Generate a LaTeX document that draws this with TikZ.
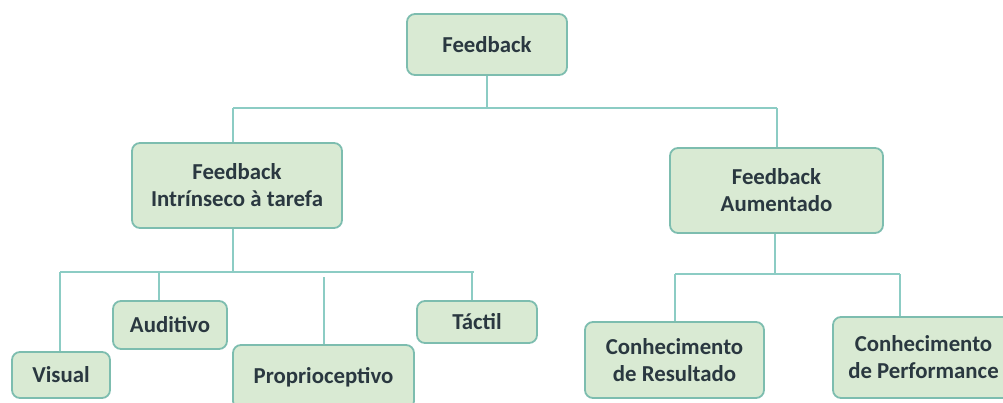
\documentclass[tikz,border=0pt]{standalone}
\usepackage{fontspec}
\setmainfont{Carlito}
\definecolor{boxfill}{HTML}{D9EAD3}
\definecolor{boxline}{HTML}{7DBDAF}
\definecolor{conn}{HTML}{8CCCC4}
\definecolor{txt}{HTML}{2A3840}
\tikzset{
  box/.style={draw=boxline, line width=1.8pt, fill=boxfill, rounded corners=8pt,
    inner sep=0pt, align=center, text=txt, font=\fontsize{22.8}{27}\selectfont\bfseries},
  link/.style={draw=conn, line width=2.4pt}
}
\begin{document}
\begin{tikzpicture}[x=1pt,y=-1pt]
\useasboundingbox (0,0) rectangle (1003,402);
\clip (0,0) rectangle (1003,402);
% nodes
\node[box, minimum width=160pt, minimum height=61pt] (fb) at (487,44.5) {Feedback};
\node[box, minimum width=210pt, minimum height=85pt] (fi) at (237,185.5) {Feedback\\Intrínseco à tarefa};
\node[box, minimum width=213pt, minimum height=85pt] (fa) at (776.5,190.5) {Feedback\\Aumentado};
\node[box, minimum width=98pt, minimum height=46pt] (vis) at (61,375) {Visual};
\node[box, minimum width=114pt, minimum height=48pt] (aud) at (170,325) {Auditivo};
\node[box, minimum width=181pt, minimum height=64pt] (pro) at (323.5,377) {Proprioceptivo};
\node[box, minimum width=120pt, minimum height=42pt] (tac) at (477,322) {Táctil};
\node[box, minimum width=179pt, minimum height=76pt] (cr) at (674.5,360) {Conhecimento\\de Resultado};
\node[box, minimum width=181pt, minimum height=81pt] (cp) at (923.5,357.5) {Conhecimento\\de Performance};
% junction coordinates
\coordinate (t0) at (487,108);
\coordinate (tl) at (233,108);
\coordinate (tr) at (777,108);
\coordinate (l0) at (233,272);
\coordinate (lv) at (60,272);
\coordinate (la) at (159,272);
\coordinate (lp) at (324,277);
\coordinate (lt) at (472,272);
\coordinate (le) at (474,272);
\coordinate (r0) at (775,274);
\coordinate (rl) at (675,274);
\coordinate (rr) at (900,274);
% connectors
\path[link] (fb.south) -- (t0);
\path[link] (tl) -- (tr);
\path[link] (tl) -- (tl |- fi.north);
\path[link] (tr) -- (tr |- fa.north);
\path[link] (fi.south -| l0) -- (l0);
\path[link] (lv) -- (le);
\path[link] (lv) -- (lv |- vis.north);
\path[link] (la) -- (la |- aud.north);
\path[link] (lp) -- (lp |- pro.north);
\path[link] (lt) -- (lt |- tac.north);
\path[link] (fa.south -| r0) -- (r0);
\path[link] (rl) -- (rr);
\path[link] (rl) -- (rl |- cr.north);
\path[link] (rr) -- (rr |- cp.north);
\end{tikzpicture}
\end{document}
